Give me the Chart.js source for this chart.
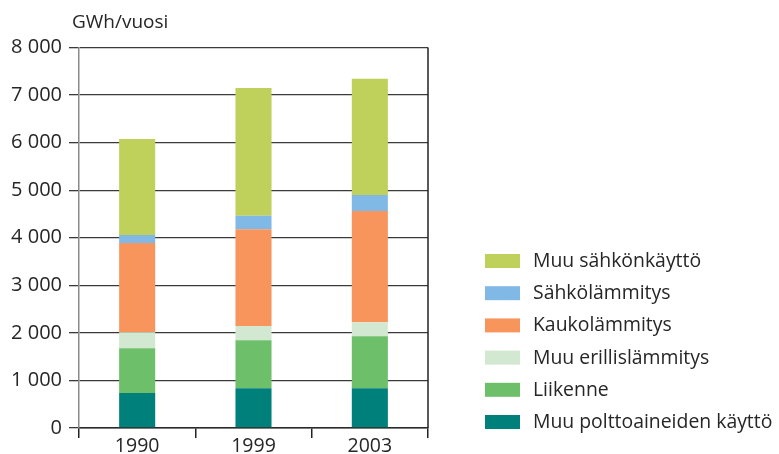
<!DOCTYPE html>
<html>
<head>
<meta charset="utf-8">
<script src="https://cdn.jsdelivr.net/npm/chart.js@4"></script>
<style>
  html, body { margin: 0; padding: 0; background: #fff; }
</style>
</head>
<body>
<canvas id="sahko" width="779" height="454"></canvas>
<script>
const years = ["1990", "1999", "2003"]

// GWh/vuosi
const muuPolttoaine = [737, 836, 836]
const liikenne = [941, 1010, 1095]
const muuErillis = [337, 301, 294]
const kaukolammitys = [1873, 2030, 2337]
const sahkolammitys = [169, 286, 337]
const muuSahko = [2021, 2688, 2442]

const yTicks = [0, 1000, 2000, 3000, 4000, 5000, 6000, 7000, 8000]

const font = "'Open Sans', 'DejaVu Sans', sans-serif"
const textColor = "#262626"

const fmt = v => String(v).replace(/\B(?=(\d{3})+(?!\d))/g, " ")

// legend + unit title + right frame line
const extras = {
	id: "extras",
	afterDraw(chart) {
		const ctx = chart.ctx
		const area = chart.chartArea
		ctx.save()

		ctx.strokeStyle = "#222"
		ctx.lineWidth = 1.5
		ctx.beginPath()
		ctx.moveTo(area.right, area.top)
		ctx.lineTo(area.right, area.bottom)
		ctx.stroke()

		ctx.fillStyle = textColor
		ctx.font = "19px " + font
		ctx.textBaseline = "middle"
		ctx.textAlign = "left"
		ctx.fillText("GWh/vuosi", 72, 23)

		const sets = chart.data.datasets.slice().reverse()
		sets.forEach((ds, i) => {
			const y = 254 + i * 32.2
			ctx.fillStyle = ds.backgroundColor
			ctx.fillRect(485, y, 35, 14)
			ctx.fillStyle = textColor
			ctx.font = "19.4px " + font
			ctx.fillText(ds.label, 533, y + 7.5)
		})
		ctx.restore()
	}
}

new Chart(document.getElementById("sahko"), {
	type: "bar",
	data: {
		labels: years,
		datasets: [
			{ label: "Muu polttoaineiden käyttö", data: muuPolttoaine, backgroundColor: "#00807a" },
			{ label: "Liikenne", data: liikenne, backgroundColor: "#6dbf6a" },
			{ label: "Muu erillislämmitys", data: muuErillis, backgroundColor: "#d3e8d0" },
			{ label: "Kaukolämmitys", data: kaukolammitys, backgroundColor: "#f7955d" },
			{ label: "Sähkölämmitys", data: sahkolammitys, backgroundColor: "#80b9e5" },
			{ label: "Muu sähkönkäyttö", data: muuSahko, backgroundColor: "#bfd05b" }
		]
	},
	options: {
		responsive: false,
		animation: false,
		barPercentage: 0.31,
		categoryPercentage: 1,
		layout: { padding: { top: 47.5, right: 351, bottom: 0, left: 0 } },
		plugins: {
			legend: { display: false },
			tooltip: { enabled: false }
		},
		scales: {
			x: {
				stacked: true,
				offset: true,
				grid: { display: true, drawOnChartArea: false, tickLength: 10, color: "#222", lineWidth: 1.5, offset: true },
				border: { display: true, color: "#2a2a2a", width: 1.5 },
				ticks: { color: textColor, font: { family: font, size: 19.5 }, padding: -3 },
				afterFit: s => { s.height = 26 }
			},
			y: {
				stacked: true,
				min: 0,
				max: 8000,
				afterBuildTicks: s => { s.ticks = yTicks.map(v => ({ value: v })) },
				grid: { color: "#3a3a3a", lineWidth: 1.3, tickLength: 10 },
				border: { display: true, color: "#8a8a8a", width: 1.5 },
				ticks: { color: textColor, font: { family: font, size: 20 }, padding: 7, callback: v => fmt(v) },
				afterFit: s => { s.width = 79 }
			}
		}
	},
	plugins: [extras]
})
</script>
</body>
</html>
